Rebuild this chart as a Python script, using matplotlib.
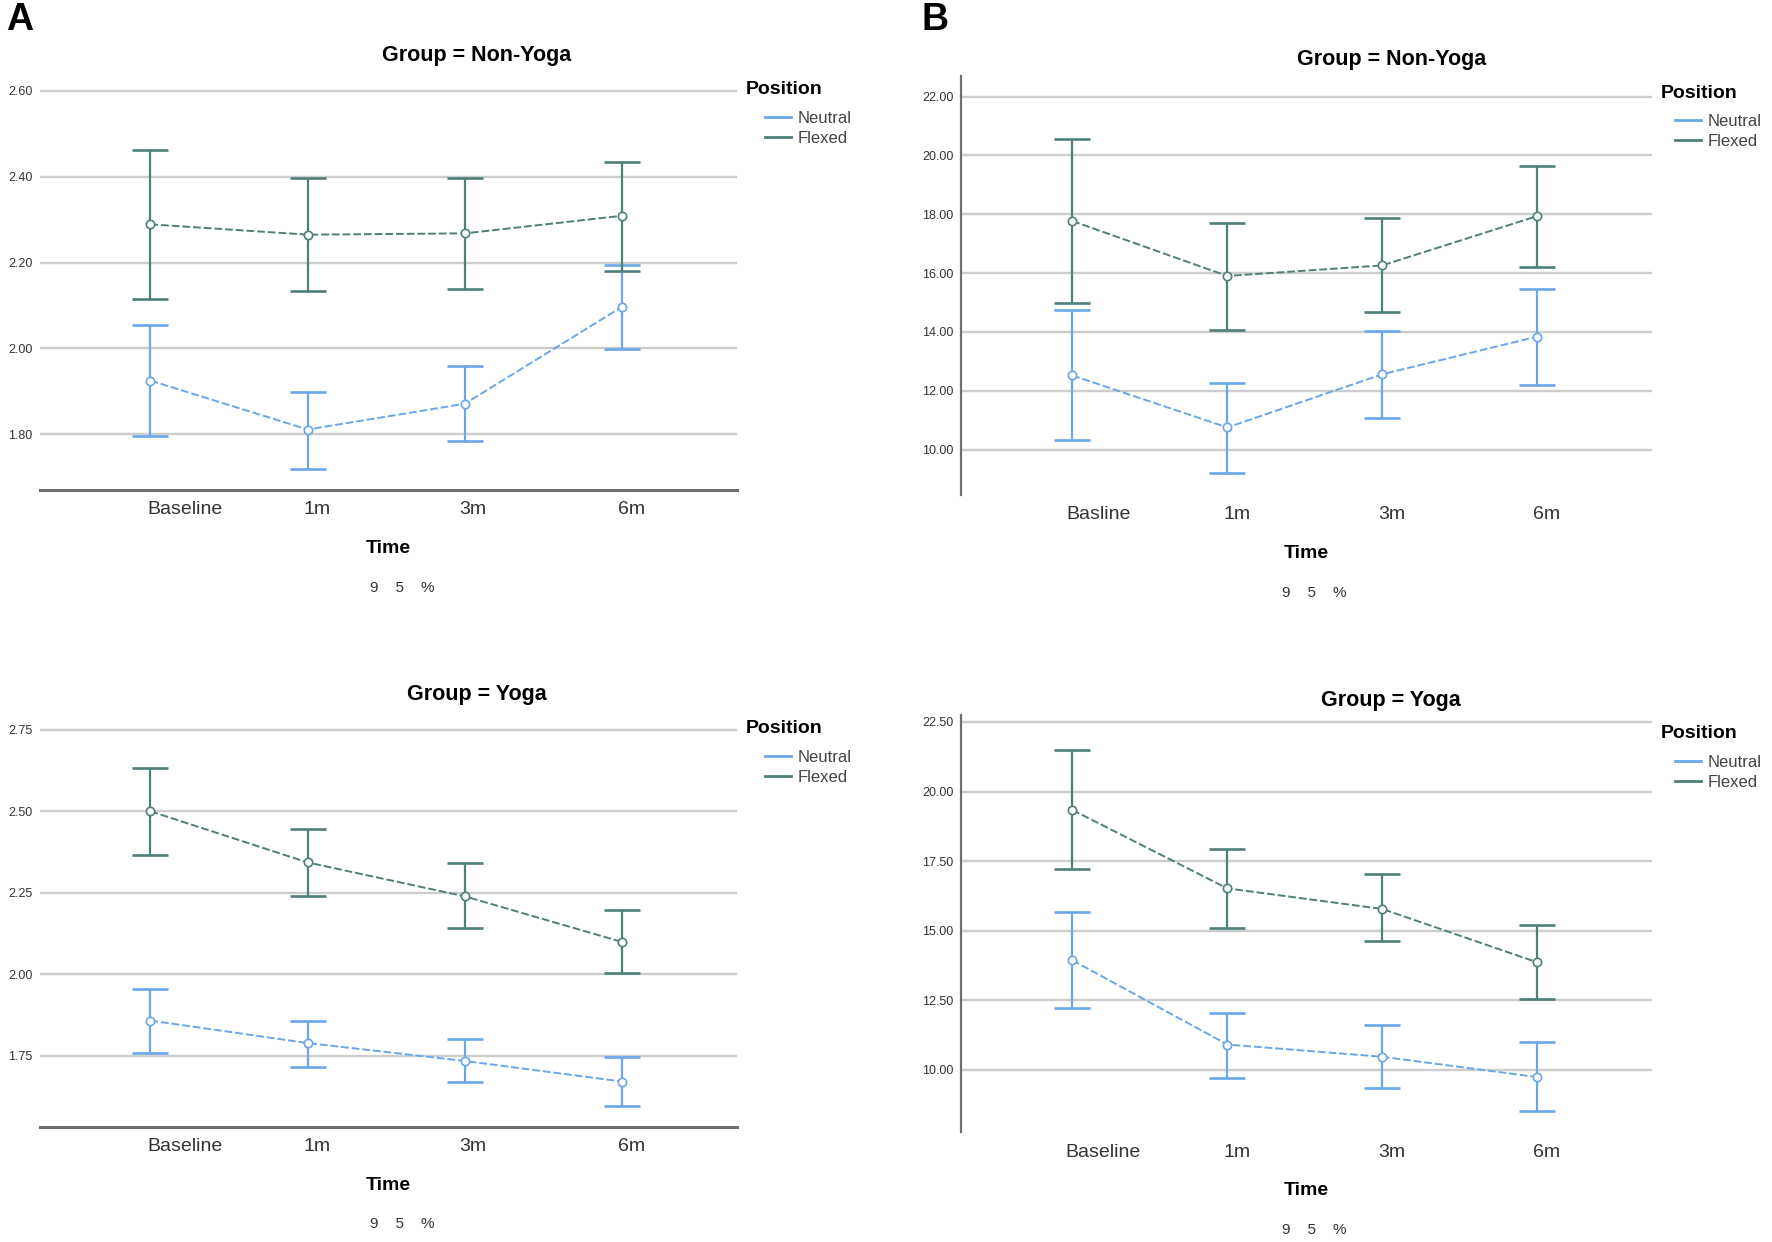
import numpy as np
import matplotlib
matplotlib.use('Agg')
import matplotlib.pyplot as plt
from matplotlib.lines import Line2D

plt.rcParams['font.family'] = ['Liberation Sans', 'DejaVu Sans']

# ---- data ----
time_labels = ['Baseline', '1m', '3m', '6m']
time_labels_typo = ['Basline', '1m', '3m', '6m']   # as printed in panel B top
positions = ['Neutral', 'Flexed']

# panel A, Non-Yoga
a_non_neutral = [1.925, 1.811, 1.871, 2.097]
a_non_neutral_lo = [1.796, 1.718, 1.785, 1.999]
a_non_neutral_hi = [2.055, 1.899, 1.958, 2.195]
a_non_flexed = [2.289, 2.265, 2.268, 2.309]
a_non_flexed_lo = [2.115, 2.133, 2.139, 2.181]
a_non_flexed_hi = [2.462, 2.396, 2.398, 2.435]

# panel A, Yoga
a_yoga_neutral = [1.858, 1.789, 1.734, 1.671]
a_yoga_neutral_lo = [1.760, 1.717, 1.668, 1.595]
a_yoga_neutral_hi = [1.956, 1.856, 1.801, 1.745]
a_yoga_flexed = [2.500, 2.343, 2.239, 2.099]
a_yoga_flexed_lo = [2.367, 2.240, 2.141, 2.003]
a_yoga_flexed_hi = [2.633, 2.445, 2.341, 2.198]

# panel B, Non-Yoga
b_non_neutral = [12.52, 10.75, 12.56, 13.84]
b_non_neutral_lo = [10.31, 9.19, 11.08, 12.21]
b_non_neutral_hi = [14.73, 12.26, 14.03, 15.45]
b_non_flexed = [17.77, 15.90, 16.26, 17.94]
b_non_flexed_lo = [14.97, 14.07, 14.66, 16.19]
b_non_flexed_hi = [20.55, 17.70, 17.86, 19.64]

# panel B, Yoga
b_yoga_neutral = [13.94, 10.91, 10.47, 9.74]
b_yoga_neutral_lo = [12.24, 9.70, 9.35, 8.52]
b_yoga_neutral_hi = [15.66, 12.05, 11.61, 10.99]
b_yoga_flexed = [19.34, 16.52, 15.78, 13.86]
b_yoga_flexed_lo = [17.20, 15.11, 14.62, 12.54]
b_yoga_flexed_hi = [21.49, 17.93, 17.05, 15.21]

yticks_a_non = [1.8, 2.0, 2.2, 2.4, 2.6]
yticks_a_yoga = [1.75, 2.0, 2.25, 2.5, 2.75]
yticks_b_non = [10, 12, 14, 16, 18, 20, 22]
yticks_b_yoga = [10, 12.5, 15, 17.5, 20, 22.5]

neutral_col = '#6ba6e8'
flexed_col = '#4f7f79'
grid_col = '#cdcdcd'

W, H = 1568.0, 1100.0


def draw_panel(ax, series, labels, label_shift, yticks, ylim, xlim,
               legend_pos, panel_style, pct_shift):
    for mean, lo, hi, col in series:
        x = np.arange(len(mean))
        mean = np.array(mean)
        err = [mean - np.array(lo), np.array(hi) - mean]
        ax.errorbar(x, mean, yerr=err, fmt='none', ecolor=col,
                    elinewidth=1.6, capsize=13, capthick=1.9, zorder=3)
        ax.plot(x, mean, color=col, lw=1.4, dashes=(4, 1.5), zorder=4)
        ax.plot(x, mean, 'o', ms=6, mfc='white', mec=col, mew=1.2, zorder=5)

    for yt in yticks:
        ax.axhline(yt, color=grid_col, lw=1.7, zorder=1)

    ax.set_xlim(*xlim)
    ax.set_ylim(*ylim)
    ax.set_yticks(yticks)
    ax.set_yticklabels(['{:.2f}'.format(v) for v in yticks], fontsize=9,
                       color='#333333')
    ax.set_xticks(np.arange(len(labels)) + np.array(label_shift))
    ax.set_xticklabels(labels, fontsize=14, color='#333333')
    ax.tick_params(axis='both', length=0)
    ax.tick_params(axis='x', pad=8)
    ax.tick_params(axis='y', pad=5)

    for s in ['top', 'right', 'left', 'bottom']:
        ax.spines[s].set_visible(False)
    if panel_style == 'A':
        ax.spines['bottom'].set_visible(True)
        ax.spines['bottom'].set_color('#6e6e6e')
        ax.spines['bottom'].set_linewidth(2.2)
    else:
        ax.spines['left'].set_visible(True)
        ax.spines['left'].set_color('#707070')
        ax.spines['left'].set_linewidth(1.6)

    ax.text(0.5, -0.14, 'Time', transform=ax.transAxes, ha='center',
            va='center', fontsize=14, fontweight='bold')
    ax.text(0.5 + pct_shift, -0.234, '9    5    %', transform=ax.transAxes,
            ha='center', va='center', fontsize=11, color='#333333')

    # legend: title as plain text, entries as a legend
    tx, ty, lx, ly = legend_pos
    ax.figure.text(tx / W, 1 - ty / H, 'Position', ha='left', va='center',
                   fontsize=14, fontweight='bold')
    handles = [Line2D([], [], color=neutral_col, lw=2),
               Line2D([], [], color=flexed_col, lw=2)]
    leg = ax.legend(handles, positions, frameon=False,
                    loc='center left', bbox_to_anchor=(lx / W, 1 - ly / H),
                    bbox_transform=ax.figure.transFigure,
                    fontsize=12, handlelength=1.55, handletextpad=0.4,
                    labelspacing=0.3, borderpad=0, borderaxespad=0)
    for t in leg.get_texts():
        t.set_color('#444444')


fig = plt.figure(figsize=(17.72, 12.42), dpi=100)


def box(left, right, top, bottom):
    return [left / W, 1 - bottom / H, (right - left) / W, (bottom - top) / H]


ax1 = fig.add_axes(box(35, 652, 63, 434))
ax2 = fig.add_axes(box(35, 652, 629, 998))
ax3 = fig.add_axes(box(850, 1462, 67, 438))
ax4 = fig.add_axes(box(850, 1462, 633, 1003))

draw_panel(ax1,
           [(a_non_neutral, a_non_neutral_lo, a_non_neutral_hi, neutral_col),
            (a_non_flexed, a_non_flexed_lo, a_non_flexed_hi, flexed_col)],
           time_labels, [0.22, 0.06, 0.05, 0.06], yticks_a_non,
           (1.670, 2.646), (-0.705, 3.73), (660, 79, 677, 114), 'A', 0.02)
draw_panel(ax2,
           [(a_yoga_neutral, a_yoga_neutral_lo, a_yoga_neutral_hi, neutral_col),
            (a_yoga_flexed, a_yoga_flexed_lo, a_yoga_flexed_hi, flexed_col)],
           time_labels, [0.22, 0.06, 0.05, 0.06], yticks_a_yoga,
           (1.532, 2.81), (-0.705, 3.73), (660, 645, 677, 680), 'A', 0.02)
draw_panel(ax3,
           [(b_non_neutral, b_non_neutral_lo, b_non_neutral_hi, neutral_col),
            (b_non_flexed, b_non_flexed_lo, b_non_flexed_hi, flexed_col)],
           time_labels_typo, [0.17, 0.06, 0.06, 0.06], yticks_b_non,
           (8.47, 22.71), (-0.72, 3.74), (1470, 83, 1482, 116.5), 'B', 0.012)
draw_panel(ax4,
           [(b_yoga_neutral, b_yoga_neutral_lo, b_yoga_neutral_hi, neutral_col),
            (b_yoga_flexed, b_yoga_flexed_lo, b_yoga_flexed_hi, flexed_col)],
           time_labels, [0.20, 0.06, 0.06, 0.06], yticks_b_yoga,
           (7.75, 22.76), (-0.72, 3.74), (1470, 650, 1482, 684), 'B', 0.012)

# group titles
title_kw = dict(ha='center', va='center', fontsize=15.5, fontweight='bold')
fig.text(422 / W, 1 - 49 / H, 'Group = Non-Yoga', **title_kw)
fig.text(422 / W, 1 - 615 / H, 'Group = Yoga', **title_kw)
fig.text(1231 / W, 1 - 53 / H, 'Group = Non-Yoga', **title_kw)
fig.text(1231 / W, 1 - 620 / H, 'Group = Yoga', **title_kw)

# panel letters
fig.text(17 / W, 1 - 18 / H, 'A', ha='center', va='center',
         fontsize=27, fontweight='bold')
fig.text(827 / W, 1 - 18 / H, 'B', ha='center', va='center',
         fontsize=27, fontweight='bold')

plt.savefig('out.png', dpi=100)
plt.close(fig)
